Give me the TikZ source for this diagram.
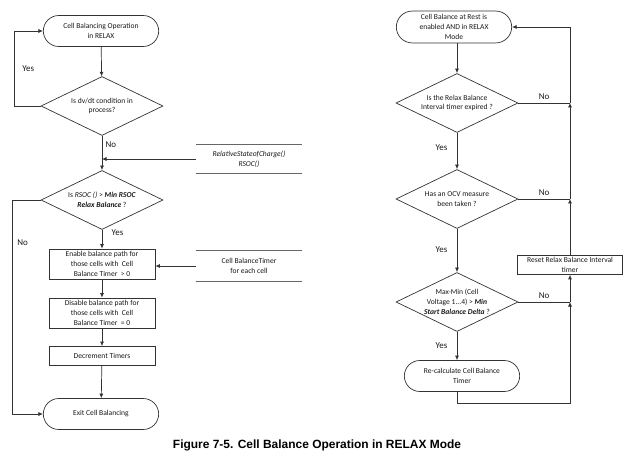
\documentclass[tikz,border=0pt]{standalone}
\usepackage{fontspec}
\setmainfont{Carlito}
\newfontfamily\capfont{Liberation Sans}
\usetikzlibrary{shapes.geometric,shapes.misc,arrows.meta}

\begin{document}
\begin{tikzpicture}[x=1bp, y=-1bp, line width=0.7bp, color=black!80,
        >={Latex[length=4.5bp,width=4bp]},
        every node/.style={font=\fontsize{7.6}{10}\selectfont, text=black!90},
        term/.style={rounded rectangle, draw, minimum width=122bp, minimum height=31bp, align=center},
        decide/.style={diamond, draw, aspect=2, inner sep=-3bp, minimum width=122bp, minimum height=59bp, align=center},
        proc/.style={rectangle, draw, minimum width=106bp, minimum height=30bp, inner sep=1bp, align=center},
        store/.style={minimum width=105bp, minimum height=28bp, align=center},
        yn/.style={font=\fontsize{9}{10}\selectfont}]

    \useasboundingbox (0,0) rectangle (640,460);

    % left chart
    \node[term] (start) at (101,31) {Cell Balancing Operation\\in RELAX};
    \node[decide] (dvdt) at (102,106) {Is dv/dt condition in\\process?};
    \node[store] (rsoc) at (249,159) {\textit{RelativeStateofCharge()}\\\textit{RSOC()}};
    \node[decide] (minrsoc) at (102,200) {Is \textit{RSOC ()} > \textbf{\textit{Min RSOC}}\\\textbf{\textit{Relax Balance}} ?};
    \node[proc] (enable) at (102,264) {Enable balance path for\\those cells with\ \ Cell\\Balance Timer\ \ > 0};
    \node[store, minimum height=30bp] (timer) at (249,266) {Cell BalanceTimer\\for each cell};
    \node[proc] (disable) at (102,313) {Disable balance path for\\those cells with\ \ Cell\\Balance Timer\ \ = 0};
    \node[proc, minimum height=19bp] (decr) at (102,356) {Decrement Timers};
    \node[term] (exit) at (101,414) {Exit Cell Balancing};

    % right chart
    \node[term, minimum height=30bp] (rest) at (454,27) {Cell Balance at Rest is\\enabled AND in RELAX\\Mode};
    \node[decide] (expired) at (457,103) {Is the Relax Balance\\Interval timer expired ?};
    \node[decide] (ocv) at (457,199) {Has an OCV measure\\been taken ?};
    \node[decide] (delta) at (457,302) {Max-Min (Cell\\Voltage 1...4) > \textbf{\textit{Min}}\\\textbf{\textit{Start Balance Delta}} ?};
    \node[proc, minimum width=105bp, minimum height=19bp] (reset) at (570,265) {Reset Relax Balance Interval\\timer};
    \node[term] (recalc) at (462,376) {Re-calculate Cell Balance\\Timer};

    \node[font=\capfont\bfseries\fontsize{12}{13}\selectfont, text=black] (caption) at (317,445) {Figure 7-5. Cell Balance Operation in RELAX Mode};

    % data lines
    \foreach \s in {rsoc,timer}
    \draw[black!60] (\s.north west) -- (\s.north east) (\s.south west) -- (\s.south east);

    % left connectors
    \draw[->] (start) -- (dvdt);
    \draw[->] (dvdt.west) -- ++(-26,0) |- (start.west) node[yn, pos=0.25, right=4bp] {Yes};
    \draw[->] (dvdt) -- (minrsoc) node[yn, pos=0.27, right] {No};
    \draw[->] (rsoc.west) -- (rsoc.west -| dvdt.south);
    \draw[->] (minrsoc) -- (enable) node[yn, pos=0.15, right=6bp] {Yes};
    \draw[->] (minrsoc.west) -- ++(-28,0) |- (exit.west) node[yn, pos=0.1, right=1bp] {No};
    \draw[->] (timer.west) -- (timer.west -| enable.east);
    \draw[->] (enable) -- (disable);
    \draw[->] (disable) -- (decr);
    \draw[->] (decr) -- (exit);

    % right connectors
    \draw[->] (expired.north |- rest.south) -- (expired.north);
    \draw[->] (expired) -- (ocv) node[yn, pos=0.42, left=6bp] {Yes};
    \draw[->] (ocv) -- (delta) node[yn, pos=0.49, left=6bp] {Yes};
    \draw[->] (delta.south) -- (delta.south |- recalc.north) node[yn, pos=0.49, left=6bp] {Yes};

    \coordinate (jd) at (delta.east -| reset.south);
    \coordinate (jo) at (ocv.east -| reset.north);
    \coordinate (je) at (expired.east -| reset.north);
    \draw (delta.east) -- (jd) node[yn, midway, above] {No};
    \draw[->] (delta.south |- recalc.south) -- ++(0,11.5) -| (jd);
    \draw[->] (jd) -- (reset.south);
    \draw[->] (reset.north) -- (jo);
    \draw (ocv.east) -- (jo) node[yn, midway, above] {No};
    \draw[->] (jo) -- (je);
    \draw (expired.east) -- (je) node[yn, midway, above] {No};
    \draw[->] (je) |- (rest.east);
\end{tikzpicture}
\end{document}
